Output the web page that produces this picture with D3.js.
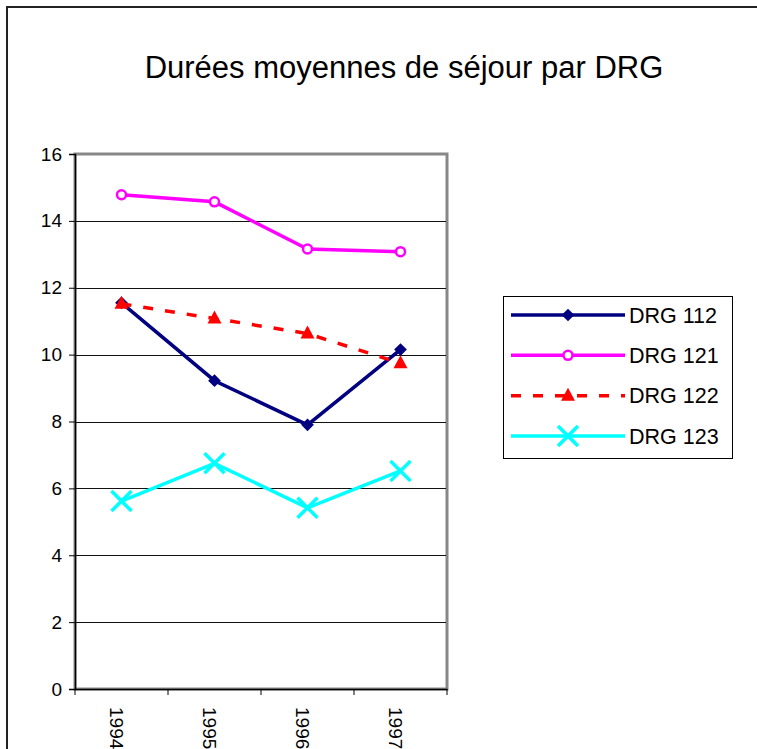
<!DOCTYPE html>
<meta charset="utf-8">
<style>
    body { margin: 0; background: #fff; }
    text { font-family: "Liberation Sans", Arial, sans-serif; fill: #000; }
    .title { font-size: 31px; text-anchor: middle; }
    .tick text { font-size: 19px; }
    .legend text { font-size: 21.5px; }
</style>
<body>
<script src="https://d3js.org/d3.v7.min.js"></script>
<script>
var years = ["1994", "1995", "1996", "1997"];
var drg112 = [11.55, 9.22, 7.9, 10.15];
var drg121 = [14.78, 14.57, 13.16, 13.08];
var drg122 = [11.52, 11.08, 10.63, 9.74];
var drg123 = [5.62, 6.75, 5.42, 6.52];
var yTicks = [0, 2, 4, 6, 8, 10, 12, 14, 16];

var series = [
    {name: "DRG 112", values: drg112, color: "#000080", marker: "diamond", dash: null},
    {name: "DRG 121", values: drg121, color: "#ff00ff", marker: "circle", dash: null},
    {name: "DRG 122", values: drg122, color: "#ff0000", marker: "triangle", dash: "10,12"},
    {name: "DRG 123", values: drg123, color: "#00ffff", marker: "cross", dash: null}
];

var W = 757, H = 749;
var plotL = 75, plotR = 447, plotT = 154, plotB = 689;

var svg = d3.select("body").append("svg").attr("width", W).attr("height", H);

// chart area border
svg.append("rect").attr("x", 7).attr("y", 7).attr("width", W + 10).attr("height", H + 10)
    .attr("fill", "#fff").attr("stroke", "#222").attr("stroke-width", 2);

svg.append("text").attr("class", "title").attr("x", 404).attr("y", 78)
    .text("Durées moyennes de séjour par DRG");

var x = d3.scaleBand().domain(years).range([plotL, plotR]);
var y = d3.scaleLinear().domain([0, 16]).range([plotB, plotT]);

// plot area frame (gray)
svg.append("rect").attr("x", plotL).attr("y", plotT).attr("width", plotR - plotL).attr("height", plotB - plotT)
    .attr("fill", "none").attr("stroke", "#888").attr("stroke-width", 3);

// gridlines
svg.append("g").selectAll("line").data(yTicks.filter(d => d > 0 && d < 16)).join("line")
    .attr("x1", plotL).attr("x2", plotR - 1)
    .attr("y1", d => Math.round(y(d)) + 0.5).attr("y2", d => Math.round(y(d)) + 0.5)
    .attr("stroke", "#111").attr("stroke-width", 1);

// y axis
var yAxis = svg.append("g").attr("transform", "translate(" + plotL + ",0)")
    .call(d3.axisLeft(y).tickValues(yTicks).tickSize(6).tickPadding(7).tickFormat(d3.format("d")));
yAxis.select(".domain").attr("stroke", "#000").attr("stroke-width", 1.5);
yAxis.selectAll(".tick line").attr("stroke", "#000");

// x axis
var xAxis = svg.append("g").attr("transform", "translate(0," + plotB + ")")
    .call(d3.axisBottom(x).tickSize(0).tickFormat(""));
xAxis.select(".domain").attr("stroke", "#000").attr("stroke-width", 1.5);
svg.append("g").selectAll("line").data(years.concat(["end"])).join("line")
    .attr("x1", (d, i) => plotL + i * x.step()).attr("x2", (d, i) => plotL + i * x.step())
    .attr("y1", plotB).attr("y2", plotB + 6).attr("stroke", "#000");
svg.append("g").selectAll("text").data(years).join("text")
    .attr("transform", d => "translate(" + (x(d) + x.bandwidth() / 2 - 11.5) + "," + (plotB + 18) + ") rotate(90)")
    .style("font-size", "19px")
    .text(d => d);

function drawMarker(g, s, cx, cy) {
    if (s.marker === "diamond") {
        g.append("rect").attr("x", cx - 4.5).attr("y", cy - 4.5).attr("width", 9).attr("height", 9)
            .attr("transform", "rotate(45," + cx + "," + cy + ")").attr("fill", s.color);
    } else if (s.marker === "circle") {
        g.append("circle").attr("cx", cx).attr("cy", cy).attr("r", 4.5)
            .attr("fill", "#fff").attr("stroke", s.color).attr("stroke-width", 2.5);
    } else if (s.marker === "triangle") {
        g.append("path").attr("d", "M" + cx + "," + (cy - 8) + "L" + (cx + 7) + "," + (cy + 5) + "L" + (cx - 7) + "," + (cy + 5) + "Z")
            .attr("fill", s.color);
    } else if (s.marker === "cross") {
        var r = 10;
        g.append("path").attr("d", "M" + (cx - r) + "," + (cy - r) + "L" + (cx + r) + "," + (cy + r) +
            "M" + (cx + r) + "," + (cy - r) + "L" + (cx - r) + "," + (cy + r))
            .attr("stroke", s.color).attr("stroke-width", 3.5).attr("fill", "none");
    }
}

var line = d3.line().x((d, i) => x(years[i]) + x.bandwidth() / 2).y(d => y(d));

series.forEach(function(s) {
    var g = svg.append("g");
    g.append("path").attr("d", line(s.values)).attr("fill", "none")
        .attr("stroke", s.color).attr("stroke-width", 3.5)
        .attr("stroke-dasharray", s.dash);
    s.values.forEach(function(v, i) {
        drawMarker(g, s, x(years[i]) + x.bandwidth() / 2, y(v));
    });
});

// legend
var lg = svg.append("g").attr("class", "legend");
lg.append("rect").attr("x", 503.5).attr("y", 296.5).attr("width", 229).attr("height", 162)
    .attr("fill", "#fff").attr("stroke", "#000").attr("stroke-width", 1);
var legendY = d3.scalePoint().domain(series.map(s => s.name)).range([315, 436]);
series.forEach(function(s) {
    var ly = legendY(s.name);
    lg.append("line").attr("x1", 511).attr("x2", 625).attr("y1", ly).attr("y2", ly)
        .attr("stroke", s.color).attr("stroke-width", 3.5).attr("stroke-dasharray", s.dash);
    drawMarker(lg, s, 568, ly);
    lg.append("text").attr("x", 629).attr("y", ly + 7.5).text(s.name);
});
</script>
</body>
